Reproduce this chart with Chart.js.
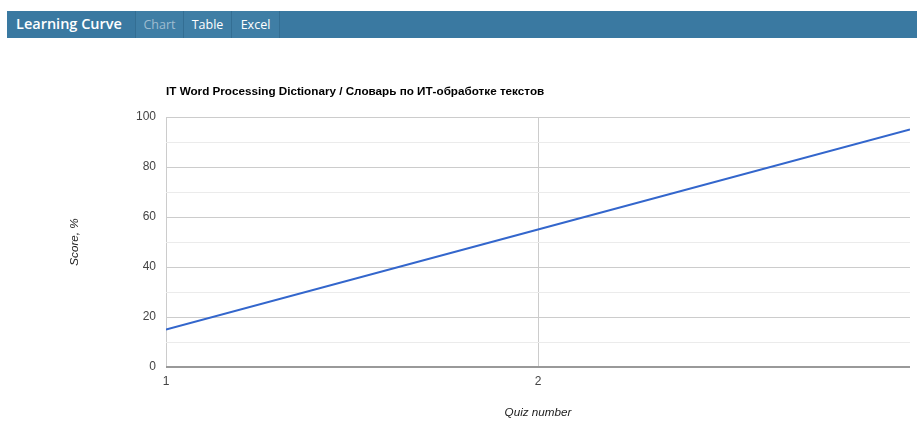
<!DOCTYPE html>
<html>
<head>
<meta charset="utf-8">
<script src="https://cdn.jsdelivr.net/npm/chart.js"></script>
<style>
  body { margin: 0; background: #fff; width: 917px; height: 421px; overflow: hidden; position: relative; }
  #bar { position: absolute; left: 7px; top: 11px; width: 910px; height: 27px; background: #3a79a1; font-family: "Open Sans", sans-serif; }
  #bar .brand { position: absolute; left: 9px; top: 3px; color: #fff; font-size: 14.5px; font-weight: 600; }
  #bar .tab { position: absolute; top: 0; height: 27px; width: 47px; line-height: 27px; text-align: center; font-size: 12.5px; color: #fff; background: #3f7ea5; border-right: 1px solid #336e93; }
  #bar .tab.off { color: #9fbdd1; border-left: 1px solid #336e93; }
  #wrap { position: absolute; left: 0; top: 40px; width: 917px; height: 381px; }
</style>
</head>
<body>
<div id="bar">
  <span class="brand">Learning Curve</span>
  <span class="tab off" style="left:128px">Chart</span>
  <span class="tab" style="left:177px">Table</span>
  <span class="tab" style="left:225px">Excel</span>
</div>
<div id="wrap"><canvas id="myChart" width="917" height="381"></canvas></div>
<script>
// DATA //
var quizNumbers = [1, 2, 3];
var scores = [15, 55, 95];
var xTickLabels = ['1', '2'];
var yTickLabels = [0, 20, 40, 60, 80, 100];

var points = quizNumbers.map(function (q, i) { return { x: q, y: scores[i] }; });

var ctx = document.getElementById('myChart').getContext('2d');
var chart = new Chart(ctx, {
    type: 'line',
    data: {
        datasets: [{
            label: 'Score',
            data: points,
            borderColor: '#3366cc',
            backgroundColor: '#3366cc',
            borderWidth: 2,
            pointRadius: 0,
            tension: 0
        }]
    },
    options: {
        responsive: false,
        animation: false,
        layout: { padding: { left: 0, right: 6, top: 0, bottom: 0 } },
        plugins: {
            legend: { display: false },
            tooltip: { enabled: false },
            title: {
                display: true,
                text: 'IT Word Processing Dictionary / Словарь по ИТ-обработке текстов',
                align: 'start',
                fullSize: false,
                color: '#000',
                font: { family: 'Liberation Sans, Arial', size: 11.7, weight: 'bold' },
                padding: { top: 45, bottom: 18 }
            }
        },
        scales: {
            x: {
                type: 'linear',
                min: 1,
                max: 3,
                afterFit: function (s) { s.height = 54; },
                border: { display: false },
                grid: {
                    drawTicks: false,
                    color: function (c) { return c.tick && c.tick.value === 3 ? 'rgba(0,0,0,0)' : '#cccccc'; }
                },
                ticks: {
                    stepSize: 1,
                    padding: 7,
                    color: '#444',
                    font: { family: 'Liberation Sans, Arial', size: 12 },
                    callback: function (v) { return xTickLabels.indexOf(String(v)) >= 0 ? String(v) : ''; }
                },
                title: {
                    display: true,
                    text: 'Quiz number',
                    color: '#222',
                    font: { family: 'Liberation Sans, Arial', size: 11.7, style: 'italic' },
                    padding: { top: 0, bottom: 1 }
                }
            },
            y: {
                min: 0,
                max: 100,
                afterFit: function (s) { s.width = 166; },
                border: { display: false },
                grid: {
                    drawTicks: false,
                    color: function (c) {
                        var v = c.tick ? c.tick.value : null;
                        if (v === 0) return '#999999';
                        return yTickLabels.indexOf(v) >= 0 ? '#cccccc' : '#ebebeb';
                    },
                    lineWidth: function (c) { return c.tick && c.tick.value === 0 ? 2 : 1; }
                },
                ticks: {
                    stepSize: 10,
                    padding: 10,
                    color: '#444',
                    font: { family: 'Liberation Sans, Arial', size: 12 },
                    callback: function (v) { return yTickLabels.indexOf(v) >= 0 ? String(v) : ''; }
                },
                title: {
                    display: true,
                    text: 'Score, %',
                    color: '#222',
                    font: { family: 'Liberation Sans, Arial', size: 11.7, style: 'italic' },
                    padding: { top: 68, bottom: 0 }
                }
            }
        }
    }
});
</script>
</body>
</html>
